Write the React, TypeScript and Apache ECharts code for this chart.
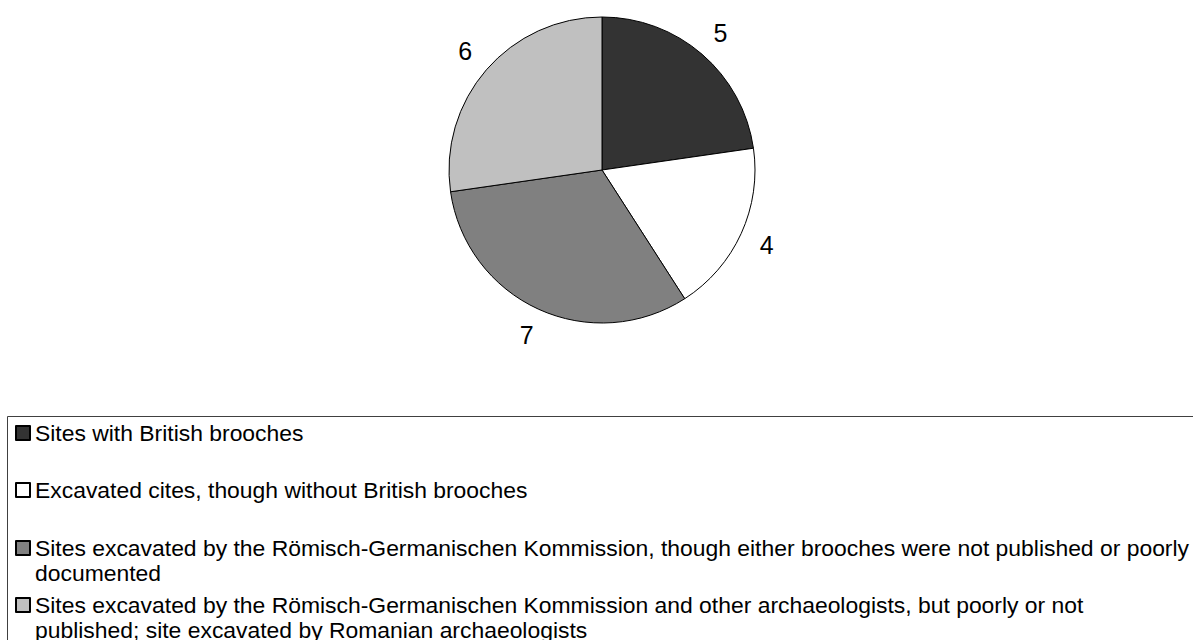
import React, { useEffect, useRef } from "react";
import * as echarts from "echarts";

const categories = [
  "Sites with British brooches",
  "Excavated cites, though without British brooches",
  "Sites excavated by the Römisch-Germanischen Kommission, though either brooches were not published or poorly documented",
  "Sites excavated by the Römisch-Germanischen Kommission and other archaeologists, but poorly or not published; site excavated by Romanian archaeologists",
];
const legendLines = [
  ["Sites with British brooches"],
  ["Excavated cites, though without British brooches"],
  [
    "Sites excavated by the Römisch-Germanischen Kommission, though either brooches were not published or poorly",
    "documented",
  ],
  [
    "Sites excavated by the Römisch-Germanischen Kommission and other archaeologists, but poorly or not",
    "published; site excavated by Romanian archaeologists",
  ],
];
const values = [5, 4, 7, 6];
const colors = ["#333333", "#ffffff", "#808080", "#c0c0c0"];

const FONT = "'Liberation Sans', Arial, sans-serif";

export default function App() {
  const ref = useRef<HTMLDivElement>(null);
  useEffect(() => {
    if (!ref.current) return;
    const chart = echarts.init(ref.current, null, { renderer: "svg" });
    const lineCenters = [433, 490, 548, 605];
    const LH = 25;
    const legends = categories.map((name, i) => {
      const lines = legendLines[i];
      const multi = lines.length > 1;
      // a blank leading line keeps the icon level with the first text line
      const label = multi ? "\n" + lines.join("\n") : lines[0];
      return {
        data: [name],
        orient: "vertical",
        left: 15,
        top: multi ? lineCenters[i] - LH * 1.5 : lineCenters[i] - LH / 2,
        padding: 0,
        icon: "rect",
        itemWidth: 14,
        itemHeight: 14,
        selectedMode: false,
        formatter: () => label,
        textStyle: {
          fontFamily: FONT,
          fontSize: 22.9,
          color: "#000",
          lineHeight: LH,
        },
      };
    });
    chart.setOption({
      animation: false,
      legend: legends,
      graphic: [
        {
          type: "rect",
          shape: { x: 7.5, y: 416.5, width: 1400, height: 400 },
          style: { fill: "none", stroke: "#404040", lineWidth: 1 },
          silent: true,
        },
      ],
      series: [
        {
          type: "pie",
          center: [602, 170],
          radius: [0, 153],
          startAngle: 90,
          clockwise: true,
          label: { show: false },
          labelLine: { show: false },
          emphasis: { disabled: true },
          itemStyle: { borderColor: "#000", borderWidth: 1 },
          data: categories.map((name, i) => ({
            name,
            value: values[i],
            itemStyle: { color: colors[i] },
          })),
        },
        {
          type: "pie",
          center: [602, 170],
          radius: [168, 188],
          startAngle: 90,
          clockwise: true,
          silent: true,
          legendHoverLink: false,
          emphasis: { disabled: true },
          itemStyle: { color: "rgba(0,0,0,0)", borderWidth: 0 },
          label: {
            show: true,
            position: "inside",
            formatter: "{c}",
            fontFamily: FONT,
            fontSize: 25,
            color: "#000",
          },
          labelLine: { show: false },
          data: categories.map((name, i) => ({ name, value: values[i] })),
        },
      ],
    });
    return () => chart.dispose();
  }, []);
  return (
    <div
      ref={ref}
      style={{ position: "absolute", left: 0, top: 0, width: 1193, height: 640, background: "#fff" }}
    />
  );
}
